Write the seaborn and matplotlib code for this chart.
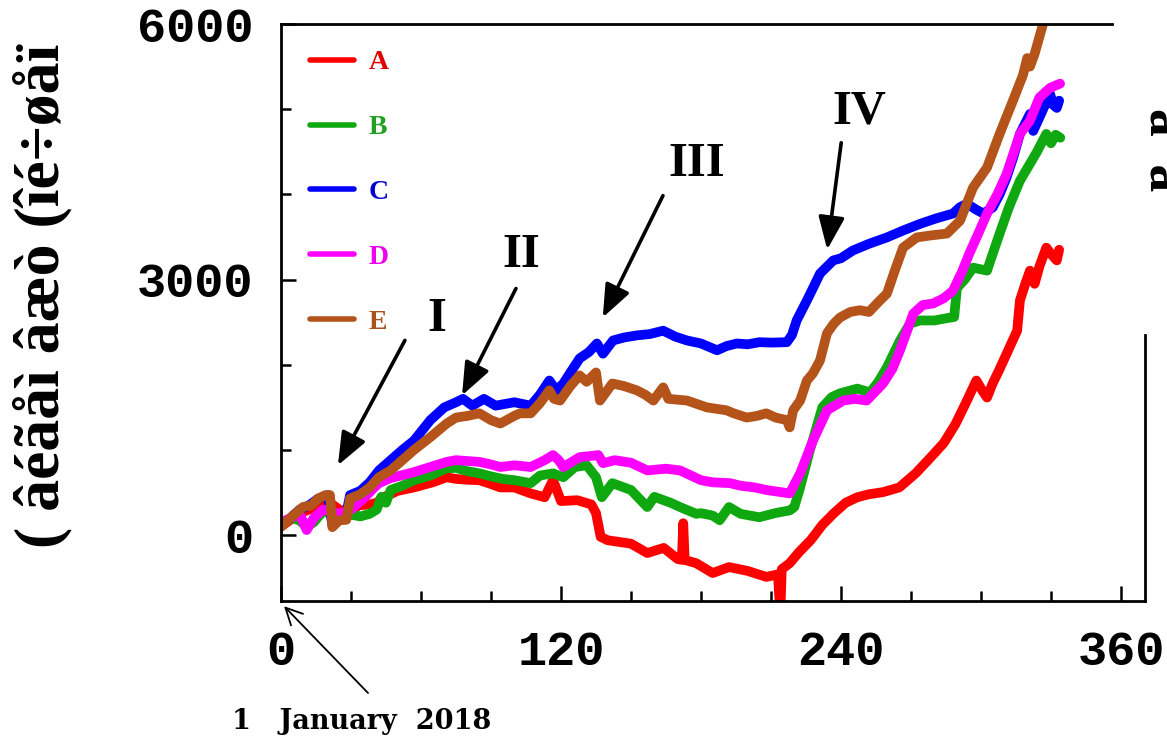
import numpy as np
import pandas as pd
import matplotlib
matplotlib.use("Agg")
import matplotlib.pyplot as plt
import seaborn as sns
from matplotlib.ticker import MultipleLocator

# ---------------- data ----------------
series_names = ["A", "B", "C", "D", "E"]

days_A = [0, 5, 10, 15, 20, 25, 30, 33, 38, 41, 44, 50, 57, 65, 71, 75, 80, 85, 90, 94,
          100, 107, 113, 116.6, 120, 127, 133, 135, 137, 140, 150, 157, 164, 170, 171.8,
          172.4, 173, 178, 185, 192, 200, 208, 213, 214, 214.6, 218, 222, 227, 232, 237,
          242, 247, 252, 258, 265, 272, 278, 284, 289, 294, 298, 300.5, 302.6, 305, 308,
          311, 315.5, 316.7, 319, 321, 323, 325, 328, 330, 332.5, 333.5]
vals_A = [100, 200, 280, 330, 400, 300, 260, 350, 360, 380, 445, 520, 560, 620, 680, 660,
          650, 645, 600, 560, 560, 490, 445, 645, 400, 410, 360, 260, -20, -60, -100, -210,
          -150, -280, -290, 140, -290, -330, -445, -375, -420, -490, -460, -950, -400, -330,
          -200, -60, 120, 258, 380, 445, 480, 505, 560, 725, 900, 1080, 1300, 1580, 1815,
          1700, 1615, 1780, 1950, 2130, 2400, 2755, 2950, 3105, 2950, 3150, 3375, 3300,
          3225, 3350]

days_B = [0, 5, 8, 11, 14, 18, 22, 26, 30, 34, 38, 41, 43, 45, 47, 52, 57, 64, 71, 75, 80,
          85, 90, 95, 100, 107, 111, 116.6, 121, 126, 131, 135, 137.5, 142, 150, 157, 160,
          167, 171, 178, 180, 185, 188, 192, 197, 205, 212, 218, 220, 222.5, 226.7, 232,
          236, 239.6, 247, 252.5, 256, 259.7, 265.3, 269.6, 274, 280, 286, 288.5, 289.7,
          293, 296.6, 302.6, 305, 308, 312, 316.7, 321, 324, 328, 330, 332, 334]
vals_B = [150, 200, 170, 100, 150, 280, 250, 250, 240, 220, 250, 300, 450, 380, 530, 580,
          645, 700, 785, 790, 750, 725, 690, 660, 645, 610, 700, 725, 680, 800, 820, 680,
          445, 610, 530, 330, 450, 380, 330, 250, 258, 230, 175, 330, 250, 210, 260, 290,
          330, 560, 1000, 1500, 1620, 1665, 1720, 1675, 1800, 1970, 2285, 2485, 2520, 2520,
          2550, 2560, 2900, 3000, 3140, 3105, 3300, 3540, 3850, 4160, 4360, 4500, 4710,
          4600, 4700, 4665]

days_C = [0, 4, 8, 12, 16, 20, 22, 25, 28, 29.6, 34, 38, 42, 47, 52, 57, 64, 70, 75, 78,
          82, 87, 92, 100, 107, 111, 115, 118, 121, 125, 128, 132, 135.4, 138, 142.3, 147,
          152.5, 158, 163.8, 169, 174, 180, 186.9, 191, 195.4, 200, 205, 210, 216.8, 219,
          221, 225.4, 228, 231, 236.7, 240, 245, 252, 259.7, 267, 274, 281, 288, 291, 294,
          298, 301, 305, 308, 311, 314, 316.7, 321, 322.4, 325, 329.6, 331, 332.5, 333.5]
vals_C = [120, 200, 300, 350, 430, 470, 120, 200, 250, 470, 520, 620, 760, 880, 1000,
          1110, 1350, 1500, 1560, 1600, 1520, 1600, 1520, 1560, 1520, 1650, 1815, 1700,
          1780, 1950, 2075, 2150, 2250, 2130, 2285, 2320, 2345, 2360, 2400, 2330, 2285,
          2250, 2170, 2220, 2250, 2240, 2265, 2260, 2265, 2350, 2520, 2755, 2900, 3070,
          3225, 3250, 3340, 3420, 3495, 3580, 3655, 3720, 3775, 3850, 3890, 3820, 3775,
          3845, 4000, 4200, 4450, 4710, 4945, 4745, 4900, 5180, 5050, 5015, 5100]

days_D = [0, 4, 8, 11, 14, 18, 25, 30, 35, 40, 42, 47, 57, 64, 71, 75, 80, 85, 90, 94,
          100, 107, 113, 116.6, 119, 121, 128, 133, 136, 138, 143, 150, 157, 165, 171, 180,
          185, 192.5, 197, 203, 208, 213, 218, 222.5, 228, 234, 241, 246, 251, 258, 262,
          265.3, 271, 275, 279.5, 284, 288, 292, 295, 299, 302.6, 307, 311, 316.7, 321,
          325, 329.6, 333.9]
vals_D = [150, 200, 250, 60, 200, 300, 250, 300, 420, 560, 610, 670, 740, 800, 860, 880,
          870, 860, 830, 800, 820, 800, 880, 940, 880, 800, 915, 930, 940, 845, 880, 850,
          760, 780, 760, 645, 620, 610, 580, 560, 530, 510, 490, 725, 1110, 1465, 1580,
          1600, 1580, 1780, 1950, 2170, 2600, 2700, 2720, 2780, 2870, 3100, 3305, 3550,
          3775, 4000, 4240, 4710, 4865, 5135, 5250, 5300]

days_E = [0, 4, 9.4, 13, 16, 19, 21, 22, 25, 28, 29.6, 34, 38, 42, 47, 52, 57, 64, 71,
          75, 80, 85, 90, 94, 100, 102.4, 107, 111, 115, 117, 119.6, 124, 128, 131, 135,
          136.7, 142, 147, 152.5, 156, 159.6, 163.8, 166, 174, 182.5, 191, 194, 199.6, 204,
          208, 212, 216.8, 218, 219.5, 222.5, 225.4, 228, 231, 234, 237, 239.6, 244, 248,
          252, 256.7, 259.7, 263, 266.6, 272.5, 279, 285.4, 291, 296.6, 302.6, 308, 313.7,
          318, 319.8, 321, 323, 326.6, 328]
vals_E = [100, 200, 330, 350, 430, 470, 470, 94, 175, 180, 430, 480, 560, 680, 760, 880,
          1000, 1150, 1310, 1380, 1400, 1430, 1350, 1310, 1400, 1430, 1430, 1550, 1700,
          1600, 1580, 1750, 1875, 1800, 1910, 1580, 1780, 1750, 1700, 1650, 1580, 1735,
          1600, 1580, 1500, 1465, 1430, 1380, 1400, 1430, 1380, 1350, 1265, 1465, 1580,
          1815, 1900, 2050, 2370, 2485, 2555, 2620, 2640, 2620, 2755, 2835, 3100, 3375,
          3495, 3520, 3540, 3690, 4080, 4315, 4710, 5100, 5400, 5600, 5500, 5650, 6000, 6150]

line_colors = ["#ff0000", "#10a810", "#0000ff", "#ff00ff", "#b4531a"]
label_colors = ["#e00000", "#22a022", "#0000cc", "#ee00ee", "#a8521e"]

x_major = [0, 120, 240, 360]
y_major = [0, 3000, 6000]

y_label = "( âéãåì âæò (îé÷øåï"
stage_labels = ["I", "II", "III", "IV"]
start_label = "1   January  2018"
edge_label = "ã  ã"

# ---------------- build table ----------------
frames = []
for n, d, v in zip(series_names,
                   [days_A, days_B, days_C, days_D, days_E],
                   [vals_A, vals_B, vals_C, vals_D, vals_E]):
    frames.append(pd.DataFrame({"day": d, "growth": v, "tree": n}))
df = pd.concat(frames, ignore_index=True)

# ---------------- style ----------------
sns.set_theme(style="ticks")
plt.rcParams["font.family"] = ["Liberation Serif", "DejaVu Serif"]
plt.rcParams["axes.linewidth"] = 2.0

fig = plt.figure(figsize=(11.67, 7.41), dpi=100)
fig.patch.set_facecolor("white")
ax = fig.add_axes([281 / 1167, 1 - 601 / 741, (1145 - 281) / 1167, (601 - 24) / 741])
ax.set_facecolor("white")

sns.lineplot(data=df, x="day", y="growth", hue="tree", hue_order=series_names,
             palette=dict(zip(series_names, line_colors)), estimator=None, sort=False,
             linewidth=7, ax=ax)

ax.set_xlim(0, 370.3)
ax.set_ylim(-773, 6000)

for s in ax.spines.values():
    s.set_color("black")
    s.set_linewidth(2.0)
ax.spines["top"].set_bounds(0, 356)
ax.spines["right"].set_bounds(-773, 2345)

ax.set_xticks(x_major)
ax.set_xticklabels([str(v) for v in x_major])
ax.set_yticks(y_major)
ax.set_yticklabels([str(v) for v in y_major])
ax.xaxis.set_minor_locator(MultipleLocator(30))
ax.yaxis.set_minor_locator(MultipleLocator(1000))
ax.tick_params(which="major", direction="in", length=11, width=1.8, color="black")
ax.tick_params(which="minor", direction="in", length=7, width=1.8, color="black")
ax.tick_params(axis="x", which="major", pad=21)
ax.tick_params(axis="y", which="major", pad=20)
for t in ax.get_xticklabels() + ax.get_yticklabels():
    t.set_fontfamily("Liberation Mono")
    t.set_fontweight("bold")
    t.set_fontsize(35)
    t.set_color("black")
ax.set_xlabel("")
ax.set_ylabel("")

# legend
handles, labels = ax.get_legend_handles_labels()
leg = ax.legend(handles, labels, loc="upper left", bbox_to_anchor=(0.0336, 0.955),
                frameon=False, borderaxespad=0, borderpad=0, handlelength=1.6,
                handletextpad=0.5, labelspacing=1.42,
                prop={"family": "Liberation Serif", "weight": "bold", "size": 20})
for h in leg.get_lines():
    h.set_linewidth(4)
for t, c in zip(leg.get_texts(), label_colors):
    t.set_color(c)

# stage annotations
stage_text_pos = [(66.9, 2540), (102.9, 3288), (178.3, 4360), (247.8, 4970)]
stage_tails = [(53.1, 2286), (100.7, 2895), (163.7, 3985), (240.1, 4606)]
stage_tips = [(24.4, 820), (77.6, 1641), (137.9, 2555), (234.1, 3352)]
for lab, p, tail, tip in zip(stage_labels, stage_text_pos, stage_tails, stage_tips):
    ax.text(p[0], p[1], lab, ha="center", va="center", fontsize=35,
            fontweight="bold", family="Liberation Serif", color="black")
    ax.annotate("", xy=tip, xytext=tail,
                arrowprops=dict(arrowstyle="-|>,head_length=0.95,head_width=0.38",
                                lw=2.6, color="black", shrinkA=0, shrinkB=0,
                                mutation_scale=21))

ax.annotate("", xy=(1.3, -834), xytext=(37.3, -1853), annotation_clip=False,
            arrowprops=dict(arrowstyle="->,head_length=0.6,head_width=0.3", lw=1.3,
                            color="black", shrinkA=0, shrinkB=0, mutation_scale=20))
ax.text(34.5, -2190, start_label, ha="center", va="center", fontsize=19.5,
        fontweight="bold", family="DejaVu Serif", color="black", clip_on=False)

# y label (rotated)
fig.text(43 / 1167, 1 - 296 / 741, y_label, rotation=90, ha="center", va="center",
         fontsize=46, fontweight="bold", family="Liberation Serif", color="black")
# partially visible label at the right edge (cut off in the reference too)
fig.text(1139 / 1167, 1 - 150 / 741, edge_label, rotation=270, ha="left", va="center",
         fontsize=40, fontweight="bold", family="Liberation Serif", color="black")

fig.savefig("out.png", dpi=100, facecolor="white")
